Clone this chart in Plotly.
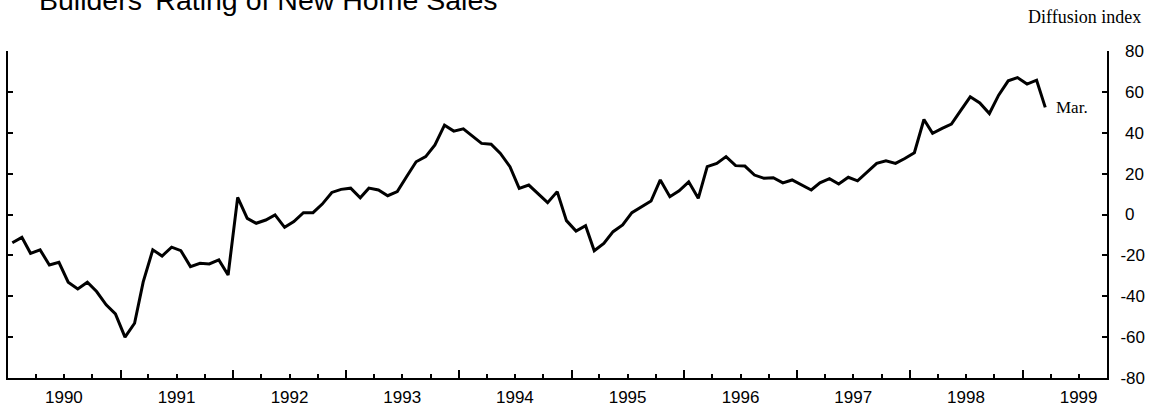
import plotly.graph_objects as go
import pandas as pd

# Monthly diffusion index, Jan 1990 - Mar 1999
values = [
    -13.8, -11.2, -19.0, -17.3, -24.7, -23.4, -33.1, -36.4, -33.1, -37.7, -44.2, -48.6,   # 1990
    -60.0, -53.2, -33.0, -17.3, -20.3, -16.0, -17.7, -25.5, -23.9, -24.2, -22.2, -29.6,   # 1991
    8.4, -1.9, -4.3, -2.7, -0.2, -6.3, -3.5, 0.9, 0.9, 5.1, 10.8, 12.3,                   # 1992
    12.9, 8.2, 12.9, 12.0, 9.2, 11.2, 18.5, 25.8, 28.3, 34.0, 43.7, 40.8,                 # 1993
    41.9, 38.3, 34.8, 34.4, 29.9, 23.4, 12.8, 14.4, 10.0, 5.8, 11.2, -3.0,                # 1994
    -8.1, -5.5, -17.7, -14.1, -8.4, -5.1, 0.9, 3.8, 6.6, 16.9, 8.7, 11.6,                 # 1995
    16.0, 7.9, 23.4, 25.0, 28.3, 23.9, 23.7, 19.3, 17.7, 18.0, 15.5, 16.9,                # 1996
    14.4, 12.0, 15.5, 17.5, 14.9, 18.2, 16.5, 20.9, 25.0, 26.3, 25.0, 27.4,               # 1997
    30.2, 46.5, 39.7, 42.1, 44.2, 51.1, 57.6, 54.6, 49.4, 58.4, 65.4, 67.0,               # 1998
    63.8, 65.7, 52.4,                                                                      # 1999
]
dates = pd.date_range(start="1990-01-01", periods=len(values), freq="MS") + pd.Timedelta(days=14)

year_labels = ["1990", "1991", "1992", "1993", "1994", "1995", "1996", "1997", "1998", "1999"]
label_positions = [f"{y}-07-01" for y in year_labels]
y_ticks = [-80, -60, -40, -20, 0, 20, 40, 60, 80]
y_ticktext = ["-80", "-60", "-40", "-20", "\u00a00", "\u00a020", "\u00a040", "\u00a060", "\u00a080"]

title_text = "Builders' Rating of New Home Sales"
unit_text = "Diffusion index"
end_label = "Mar."

x_range = ["1990-01-01", "1999-10-01"]

fig = go.Figure()
fig.add_trace(go.Scatter(
    x=dates, y=values, mode="lines",
    line=dict(color="black", width=3),
    showlegend=False, hoverinfo="skip",
))
# dummy trace for the tick-only overlay axis
fig.add_trace(go.Scatter(
    x=[x_range[0]], y=[None], xaxis="x2", mode="lines",
    showlegend=False, hoverinfo="skip",
))

sans = "Liberation Sans, Arial, sans-serif"
serif = "Liberation Serif, Times New Roman, serif"

fig.update_layout(
    width=1153, height=406,
    margin=dict(l=8, r=46, t=51, b=28),
    paper_bgcolor="white", plot_bgcolor="white",
    xaxis=dict(
        type="date", range=x_range, automargin=False,
        tickmode="array", tickvals=label_positions, ticktext=year_labels,
        ticks="", showgrid=False, zeroline=False,
        showline=True, linecolor="black", linewidth=2,
        tickfont=dict(family=sans, size=17, color="black"),
        ticklabelstandoff=3,
    ),
    xaxis2=dict(
        type="date", range=x_range, overlaying="x", anchor="y", side="bottom",
        automargin=False,
        showticklabels=False, showgrid=False, zeroline=False, showline=False,
        tickmode="linear", tick0="1990-01-01", dtick="M12",
        ticks="inside", ticklen=8, tickwidth=1.5, tickcolor="black",
        minor=dict(dtick="M3", tick0="1990-01-01", ticks="inside", ticklen=4,
                   tickwidth=1.5, tickcolor="black", showgrid=False),
    ),
    yaxis=dict(
        range=[-80, 80], side="right", automargin=False,
        tickmode="array", tickvals=y_ticks, ticktext=y_ticktext,
        ticks="inside", ticklen=5, tickwidth=1.5, tickcolor="black",
        showline=True, linecolor="black", linewidth=2, mirror="ticks",
        showgrid=False, zeroline=False,
        tickfont=dict(family=sans, size=17, color="black"),
        ticklabelstandoff=8,
    ),
    annotations=[
        dict(text=title_text, xref="paper", yref="paper",
             x=(37 - 8) / 1099, y=(378 - 0) / 327, xanchor="left", yanchor="middle",
             showarrow=False, font=dict(family=sans, size=28.5, color="black")),
        dict(text=unit_text, xref="paper", yref="paper",
             x=(1143 - 8) / 1099, y=(378 - 16.5) / 327, xanchor="right", yanchor="middle",
             showarrow=False, font=dict(family=serif, size=18, color="black")),
        dict(text=end_label, xref="x", yref="y",
             x=dates[-1], y=values[-1], xanchor="left", yanchor="middle", xshift=9,
             showarrow=False, font=dict(family=serif, size=17, color="black")),
    ],
)

fig.write_html("out.html", config={"displayModeBar": False},
               post_script="document.body.style.margin='0';")
